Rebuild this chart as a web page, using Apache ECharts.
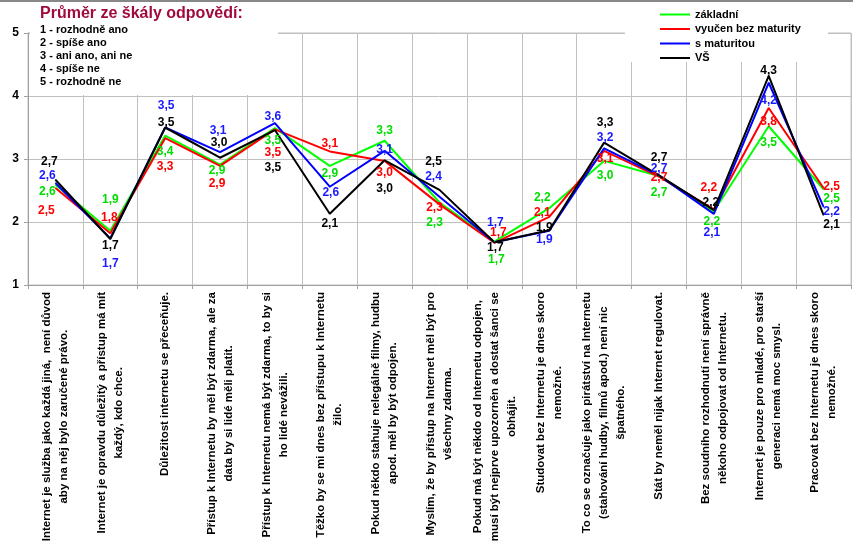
<!DOCTYPE html>
<html><head><meta charset="utf-8">
<script src="https://cdn.jsdelivr.net/npm/echarts@6/dist/echarts.min.js"></script>
<style>html,body{margin:0;padding:0;background:#fff}#c{width:858px;height:553px}</style>
</head><body><div id="c"></div>
<script>
const categories = [
  "Internet je služba jako každá jiná,  není důvod\naby na něj bylo zaručené právo.",
  "Internet je opravdu důležitý a přístup má mít\nkaždý, kdo chce.",
  "Důležitost internetu se přeceňuje.",
  "Přístup k Internetu by měl být zdarma, ale za\ndata by si lidé měli platit.",
  "Přístup k Internetu nemá být zdarma, to by si\nho lidé nevážili.",
  "Těžko by se mi dnes bez přístupu k Internetu\nžilo.",
  "Pokud někdo stahuje nelegálně filmy, hudbu\napod. měl by být odpojen.",
  "Myslím, že by přístup na Internet měl být pro\nvšechny zdarma.",
  "Pokud má být někdo od Internetu odpojen,\nmusí být nejprve upozorněn a dostat šanci se\nobhájit.",
  "Studovat bez Internetu je dnes skoro\nnemožné.",
  "To co se označuje jako pirátství na Internetu\n(stahování hudby, filmů apod.) není nic\nšpatného.",
  "Stát by neměl nijak Internet regulovat.",
  "Bez soudního rozhodnutí není správně\nněkoho odpojovat od Internetu.",
  "Internet je pouze pro mladé, pro starší\ngeneraci nemá moc smysl.",
  "Pracovat bez Internetu je dnes skoro\nnemožné."
];
const seriesNames = ["základní", "vyučen bez maturity", "s maturitou", "VŠ"];
const zakladni = [2.59, 1.86, 3.37, 2.91, 3.49, 2.89, 3.29, 2.31, 1.69, 2.22, 2.97, 2.73, 2.17, 3.52, 2.52];
const vyucen   = [2.54, 1.82, 3.33, 2.89, 3.47, 3.12, 2.97, 2.28, 1.67, 2.08, 3.13, 2.72, 2.20, 3.81, 2.54];
const maturita = [2.62, 1.74, 3.50, 3.11, 3.57, 2.56, 3.13, 2.40, 1.68, 1.86, 3.17, 2.74, 2.13, 4.21, 2.24];
const vs       = [2.67, 1.73, 3.50, 3.02, 3.46, 2.13, 2.98, 2.51, 1.68, 1.87, 3.26, 2.74, 2.19, 4.32, 2.11];
const yTicks = [1, 2, 3, 4, 5];
const scaleTitle = "Průměr ze škály odpovědí:";
const scaleLines = ["1 - rozhodně ano", "2 - spíše ano", "3 - ani ano, ani ne", "4 - spíše ne", "5 - rozhodně ne"];

// label offsets (layout only)
const offZ = [[-8,7],[0,-31],[0,16],[-3,6],[-2,13],[0,8],[0,-10],[-5,20],[2,18],[-7,-10],[1,15],[0,17],[-2,10],[0,16],[8,9]];
const offV = [[-9,23],[-1,-16],[0,28],[-3,18],[-2,23],[0,-8],[0,12],[-5,3],[4,-10],[-7,-4],[1,8],[0,1],[-5,-22],[0,14],[8,-1]];
const offM = [[-8,-7],[0,25],[1,-22],[-2,-21],[-2,-6],[1,6],[0,-1],[-6,-20],[1,-19],[-5,9],[1,-11],[0,-7],[-2,19],[0,18],[8,5]];
const offS = [[-6,-18],[0,7],[1,-5],[-1,-15],[-2,38],[0,10],[0,28],[-6,-28],[1,6],[-5,-3],[1,-20],[0,-18],[-3,-7],[0,-5],[8,10]];

const FONT = "Arial, 'Liberation Sans', sans-serif";
const chart = echarts.init(document.getElementById('c'), null, {renderer: 'canvas'});

function mk(name, vals, offs, lineColor, labelColor) {
  return {
    name: name, type: 'line', symbol: 'circle', symbolSize: 1, showSymbol: true,
    lineStyle: {color: lineColor, width: 2}, itemStyle: {color: lineColor},
    emphasis: {disabled: true}, animation: false,
    label: {
      show: true, position: 'inside', color: labelColor, fontWeight: 'bold',
      fontSize: 12, fontFamily: FONT,
      formatter: p => p.value.toFixed(1).replace('.', ',')
    },
    data: vals.map((v, i) => ({value: v, label: {offset: offs[i]}}))
  };
}

const option = {
  animation: false,
  textStyle: {fontFamily: FONT},
  grid: {left: 28, right: 7, top: 33, bottom: 268, show: true, borderColor: '#c0c0c0', borderWidth: 1},
  legend: {
    data: seriesNames, orient: 'vertical', left: 655, top: 4, itemGap: 3.5,
    icon: 'rect', itemWidth: 30, itemHeight: 2,
    textStyle: {color: '#000', fontWeight: 'bold', fontSize: 11, fontFamily: FONT},
    z: 10
  },
  xAxis: {
    type: 'category', data: categories, boundaryGap: true,
    axisLine: {lineStyle: {color: '#a0a0a0'}},
    axisTick: {show: true, length: 4, interval: 0, lineStyle: {color: '#a0a0a0'}},
    splitLine: {show: true, interval: 0, lineStyle: {color: '#c0c0c0', width: 1}},
    axisLabel: {
      interval: 0, rotate: 90, margin: 7, fontSize: 11.5, fontWeight: 'bold', color: '#000',
      fontFamily: FONT, lineHeight: 17,
      formatter: v => v.split('\n').map(s => '{c|' + s + '}').join('\n'),
      rich: {c: {align: 'center', fontSize: 11.5, fontWeight: 'bold', color: '#000', fontFamily: FONT, lineHeight: 17}}
    }
  },
  yAxis: {
    type: 'value', min: yTicks[0], max: yTicks[yTicks.length - 1], interval: 1,
    axisLine: {show: true, lineStyle: {color: '#a0a0a0'}},
    axisTick: {show: true, length: 4, lineStyle: {color: '#a0a0a0'}},
    splitLine: {show: true, lineStyle: {color: '#c0c0c0', width: 1}},
    axisLabel: {fontSize: 12, fontWeight: 'bold', color: '#000', margin: 9, fontFamily: FONT}
  },
  graphic: [
    {type: 'line', shape: {x1: 0, y1: 1, x2: 853, y2: 1}, style: {stroke: '#888', lineWidth: 2}, z: 20},
    {type: 'rect', shape: {x: 30, y: 3, width: 248, height: 92}, style: {fill: '#fff'}, z: 3},
    {type: 'rect', shape: {x: 625, y: 3, width: 203, height: 59}, style: {fill: '#fff'}, z: 3},
    {type: 'text', left: 40, top: 6, z: 20,
     style: {text: scaleTitle, fill: '#a00a3c', font: 'bold 16px ' + FONT}},
    {type: 'text', left: 40, top: 23, z: 20,
     style: {text: scaleLines.join('\n'), fill: '#000', font: 'bold 11px ' + FONT, lineHeight: 13}}
  ],
  series: [
    mk(seriesNames[0], zakladni, offZ, '#00ff00', '#00dd00'),
    mk(seriesNames[1], vyucen, offV, '#ff0000', '#ff0000'),
    mk(seriesNames[2], maturita, offM, '#0000ff', '#1a1aff'),
    mk(seriesNames[3], vs, offS, '#000000', '#000000')
  ]
};
chart.setOption(option);
</script>
</body></html>
